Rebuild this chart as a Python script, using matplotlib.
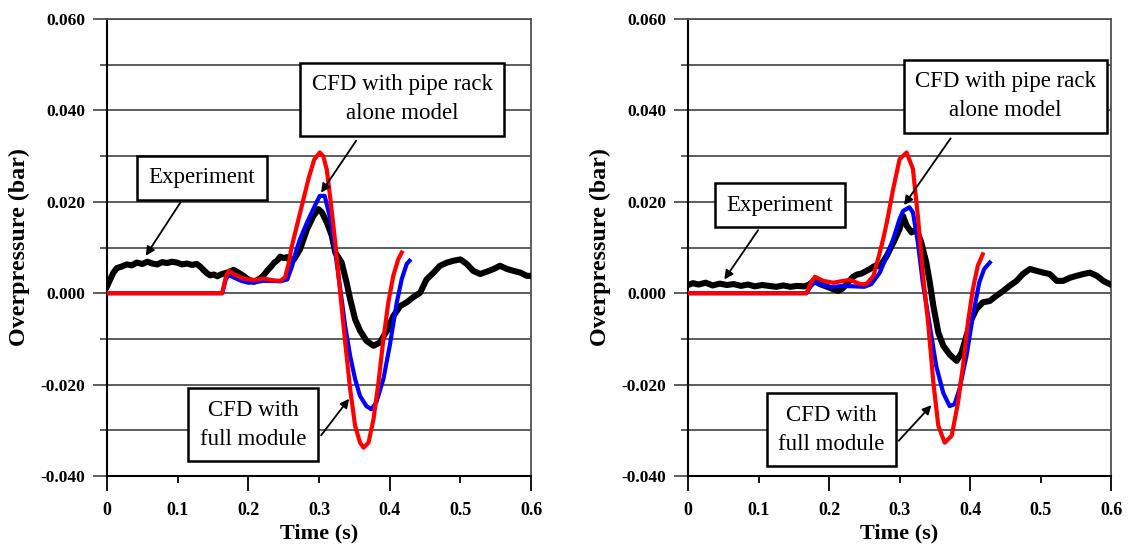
import numpy as np
import matplotlib
matplotlib.use("Agg")
import matplotlib.pyplot as plt

plt.rcParams['font.family'] = ['Liberation Serif', 'DejaVu Serif']

# ---- left panel data (time s, overpressure bar) ----
expL_t = [0.0, 0.005, 0.009, 0.014, 0.02, 0.028, 0.035, 0.042, 0.05, 0.057,
          0.064, 0.071, 0.078, 0.085, 0.092, 0.099, 0.106, 0.113, 0.12, 0.127,
          0.132, 0.137, 0.142, 0.146, 0.151, 0.156, 0.161, 0.165, 0.172, 0.179,
          0.184, 0.189, 0.194, 0.198, 0.203, 0.208, 0.213, 0.217, 0.222, 0.227,
          0.232, 0.236, 0.241, 0.245, 0.25, 0.255, 0.26, 0.265, 0.273, 0.283,
          0.292, 0.299, 0.304, 0.311, 0.318, 0.323, 0.332, 0.339, 0.344, 0.351,
          0.358, 0.367, 0.377, 0.386, 0.396, 0.405, 0.415, 0.424, 0.433, 0.443,
          0.452, 0.462, 0.471, 0.481, 0.49, 0.5, 0.509, 0.518, 0.528, 0.537,
          0.547, 0.556, 0.566, 0.575, 0.585, 0.594, 0.6]
expL_p = [0.0015, 0.0032, 0.0045, 0.0055, 0.0058, 0.0063, 0.0061, 0.0067, 0.0064, 0.0069,
          0.0065, 0.0063, 0.0068, 0.0066, 0.0069, 0.0067, 0.0063, 0.0065, 0.0062, 0.0064,
          0.0058, 0.0050, 0.0043, 0.0039, 0.0041, 0.0037, 0.0041, 0.0043, 0.0046, 0.0051,
          0.0047, 0.0042, 0.0037, 0.0032, 0.0028, 0.0025, 0.0029, 0.0033, 0.0040, 0.0050,
          0.0058, 0.0066, 0.0072, 0.0080, 0.0077, 0.0079, 0.0068, 0.0075, 0.0096, 0.0140,
          0.0169, 0.0184, 0.0177, 0.0155, 0.0126, 0.0089, 0.0067, 0.0023, -0.0013, -0.0057,
          -0.0082, -0.0104, -0.0115, -0.0108, -0.0082, -0.0050, -0.0028, -0.0020, -0.0009, 0.0001,
          0.0030, 0.0045, 0.0060, 0.0067, 0.0071, 0.0074, 0.0064, 0.0049, 0.0042, 0.0047,
          0.0053, 0.0060, 0.0053, 0.0049, 0.0045, 0.0038, 0.0038]

pipeL_t = [0.0, 0.163, 0.168, 0.172, 0.18, 0.19, 0.2, 0.21, 0.22, 0.235,
           0.245, 0.255, 0.262, 0.268, 0.273, 0.283, 0.294, 0.301, 0.308, 0.316,
           0.323, 0.33, 0.337, 0.344, 0.351, 0.358, 0.367, 0.374, 0.381, 0.391,
           0.4, 0.41, 0.417, 0.424, 0.428]
pipeL_p = [0.0, 0.0, 0.0030, 0.0040, 0.0034, 0.0027, 0.0023, 0.0024, 0.0027, 0.0027,
           0.0026, 0.0030, 0.0060, 0.0095, 0.0118, 0.0155, 0.0191, 0.0213, 0.0213, 0.0162,
           0.0089, 0.0009, -0.0072, -0.0137, -0.0188, -0.0225, -0.0247, -0.0254, -0.0239, -0.0188,
           -0.0115, -0.0020, 0.0031, 0.0064, 0.0071]

fullL_t = [0.0, 0.163, 0.168, 0.172, 0.179, 0.193, 0.208, 0.222, 0.236, 0.245,
           0.252, 0.257, 0.261, 0.269, 0.277, 0.285, 0.293, 0.301, 0.306, 0.311,
           0.316, 0.323, 0.33, 0.337, 0.344, 0.351, 0.358, 0.363, 0.37, 0.377,
           0.384, 0.391, 0.398, 0.405, 0.412, 0.417]
fullL_p = [0.0, 0.0, 0.0035, 0.0049, 0.0042, 0.0032, 0.0029, 0.0032, 0.0028, 0.0027,
           0.0035, 0.0065, 0.0100, 0.0150, 0.0200, 0.0250, 0.0292, 0.0308, 0.0300, 0.0270,
           0.0206, 0.0110, 0.0, -0.0108, -0.0210, -0.0290, -0.0327, -0.0338, -0.0327, -0.0276,
           -0.0196, -0.0101, -0.0020, 0.0038, 0.0074, 0.0089]

# ---- right panel data ----
expR_t = [0.0, 0.007, 0.015, 0.025, 0.035, 0.045, 0.055, 0.065, 0.075, 0.085,
          0.095, 0.105, 0.115, 0.125, 0.135, 0.145, 0.155, 0.165, 0.172, 0.178,
          0.183, 0.187, 0.194, 0.201, 0.207, 0.213, 0.219, 0.225, 0.234, 0.24,
          0.246, 0.252, 0.258, 0.263, 0.268, 0.272, 0.282, 0.291, 0.3, 0.305,
          0.31, 0.317, 0.324, 0.331, 0.338, 0.343, 0.348, 0.355, 0.362, 0.371,
          0.381, 0.388, 0.395, 0.402, 0.409, 0.418, 0.428, 0.437, 0.447, 0.456,
          0.466, 0.475, 0.485, 0.494, 0.504, 0.513, 0.523, 0.532, 0.542, 0.551,
          0.561, 0.57, 0.58, 0.589, 0.598]
expR_p = [0.0018, 0.0022, 0.0019, 0.0023, 0.0017, 0.0021, 0.0018, 0.0020, 0.0016, 0.0019,
          0.0015, 0.0018, 0.0016, 0.0014, 0.0017, 0.0014, 0.0016, 0.0015, 0.0019, 0.0027,
          0.0024, 0.0020, 0.0016, 0.0012, 0.0008, 0.0005, 0.0010, 0.0020, 0.0036, 0.0041,
          0.0043, 0.0048, 0.0053, 0.0058, 0.0062, 0.0058, 0.0082, 0.0110, 0.0140, 0.0169,
          0.0148, 0.0133, 0.0140, 0.0110, 0.0067, 0.0023, -0.0028, -0.0086, -0.0115, -0.0134,
          -0.0148, -0.0130, -0.0093, -0.0057, -0.0035, -0.0020, -0.0017, -0.0006, 0.0005, 0.0016,
          0.0027, 0.0042, 0.0053, 0.0049, 0.0045, 0.0042, 0.0027, 0.0027, 0.0034, 0.0038,
          0.0042, 0.0045, 0.0038, 0.0027, 0.0020]

pipeR_t = [0.0, 0.168, 0.174, 0.18, 0.19, 0.2, 0.22, 0.25, 0.26, 0.272,
           0.282, 0.291, 0.3, 0.305, 0.314, 0.319, 0.326, 0.333, 0.343, 0.352,
           0.362, 0.371, 0.378, 0.385, 0.395, 0.404, 0.413, 0.42, 0.428]
pipeR_p = [0.0, 0.0, 0.0015, 0.0024, 0.0018, 0.0013, 0.0016, 0.0014, 0.0020, 0.0045,
           0.0082, 0.0118, 0.0162, 0.0180, 0.0188, 0.0177, 0.0111, 0.0023, -0.0072, -0.0159,
           -0.0218, -0.0247, -0.0243, -0.0210, -0.0137, -0.0050, 0.0023, 0.0053, 0.0067]

fullR_t = [0.0, 0.168, 0.174, 0.18, 0.192, 0.206, 0.22, 0.23, 0.244, 0.253,
           0.263, 0.272, 0.277, 0.282, 0.291, 0.3, 0.31, 0.319, 0.326, 0.333,
           0.341, 0.348, 0.355, 0.364, 0.374, 0.383, 0.39, 0.397, 0.404, 0.411,
           0.418]
fullR_p = [0.0, 0.0, 0.0022, 0.0036, 0.0027, 0.0023, 0.0027, 0.0029, 0.0020, 0.0020,
           0.0038, 0.0089, 0.0120, 0.0155, 0.0228, 0.0293, 0.0308, 0.0272, 0.0169, 0.0045,
           -0.0072, -0.0196, -0.0290, -0.0327, -0.0312, -0.0239, -0.0159, -0.0064, 0.0009, 0.0060,
           0.0085]

x_major = [0, 0.2, 0.4, 0.6]
x_major_labels = ['0', '0.2', '0.4', '0.6']
x_minor = [0.1, 0.3, 0.5]
x_minor_labels = ['0.1', '0.3', '0.5']
y_major = [-0.04, -0.02, 0.0, 0.02, 0.04, 0.06]
y_major_labels = ['-0.040', '-0.020', '0.000', '0.020', '0.040', '0.060']
y_minor = [-0.03, -0.01, 0.01, 0.03, 0.05]

txt_exp = 'Experiment'
txt_pipe = 'CFD with pipe rack\nalone model'
txt_full = 'CFD with\nfull module'

# label box centres, arrow starts and tips (data coords)
notesL = [(txt_pipe, (0.418, 0.0424), (0.3526, 0.0334), (0.3029, 0.0220)),
          (txt_exp, (0.134, 0.0253), (0.104, 0.0199), (0.0548, 0.0082)),
          (txt_full, (0.2067, -0.0288), (0.3029, -0.0311), (0.3425, -0.0231))]
notesR = [(txt_pipe, (0.4503, 0.0431), (0.3725, 0.0339), (0.3065, 0.0193)),
          (txt_exp, (0.1306, 0.0193), (0.0994, 0.0138), (0.0515, 0.0030)),
          (txt_full, (0.2035, -0.0299), (0.2988, -0.0323), (0.3452, -0.0245))]

grid_col = '#505050'

fig = plt.figure(figsize=(11.29, 5.44), dpi=100)
axL = fig.add_axes([0.0948, 0.125, 0.3756, 0.840])
axR = fig.add_axes([0.6094, 0.125, 0.3747, 0.840])


def style(ax, ylab_x):
    ax.set_xlim(0, 0.6)
    ax.set_ylim(-0.04, 0.06)
    ax.set_xticks(x_major)
    ax.set_xticklabels(x_major_labels, fontweight='bold', fontsize=13)
    ax.set_xticks(x_minor, minor=True)
    ax.set_xticklabels(x_minor_labels, minor=True, fontweight='bold', fontsize=13)
    ax.set_yticks(y_major)
    ax.set_yticklabels(y_major_labels, fontweight='bold', fontsize=12.5)
    ax.set_yticks(y_minor, minor=True)
    ax.grid(axis='y', which='both', color=grid_col, lw=1.3)
    ax.set_axisbelow(True)
    ax.tick_params(axis='y', which='major', direction='out', length=10, width=1.3,
                   color=grid_col, pad=5.5)
    ax.tick_params(axis='y', which='minor', direction='out', length=5, width=1.3,
                   color=grid_col)
    ax.tick_params(axis='x', which='major', direction='out', length=11, width=1.3,
                   color='black', pad=8)
    ax.tick_params(axis='x', which='minor', direction='out', length=5, width=1.3,
                   color='black', pad=14)
    for s in ['left', 'bottom']:
        ax.spines[s].set_color('black')
        ax.spines[s].set_linewidth(1.5)
    for s in ['top', 'right']:
        ax.spines[s].set_color(grid_col)
        ax.spines[s].set_linewidth(1.3)
    ax.set_ylabel('Overpressure (bar)', fontweight='bold', fontsize=17.3)
    ax.yaxis.label.set_va('center')
    ax.yaxis.set_label_coords(ylab_x, 0.5)
    ax.set_xlabel('Time (s)', fontweight='bold', fontsize=16)
    ax.xaxis.label.set_va('center')
    ax.xaxis.set_label_coords(0.5, -0.125)


def draw(ax, et, ep, pt, pp, ft, fp, notes):
    ax.plot(et, ep, color='black', lw=4.4, solid_joinstyle='round', zorder=3)
    ax.plot(pt, pp, color='#0000ff', lw=3.0, zorder=4)
    ax.plot(ft, fp, color='#ff0000', lw=3.0, zorder=5)
    for txt, c, start, tip in notes:
        ax.text(c[0], c[1], txt, ha='center', va='center', fontsize=16.5,
                linespacing=1.5, zorder=7,
                bbox=dict(boxstyle='square,pad=0.5', fc='white', ec='black', lw=1.8))
        ax.annotate('', xy=tip, xytext=start, zorder=6,
                    arrowprops=dict(arrowstyle='-|>', color='black', lw=1.3,
                                    mutation_scale=13, shrinkA=0, shrinkB=0))


style(axL, -0.2075)
style(axR, -0.206)
draw(axL, expL_t, expL_p, pipeL_t, pipeL_p, fullL_t, fullL_p, notesL)
draw(axR, expR_t, expR_p, pipeR_t, pipeR_p, fullR_t, fullR_p, notesR)

fig.savefig('out.png', dpi=100)
